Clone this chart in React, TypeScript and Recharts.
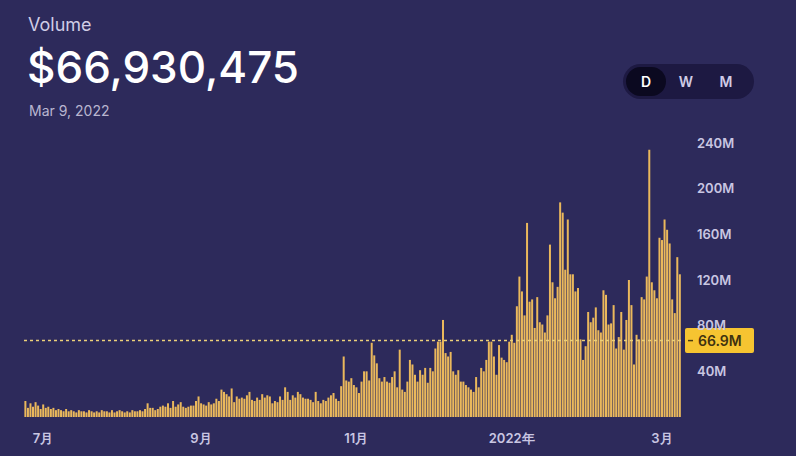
import React from 'react';
import { BarChart, Bar, XAxis, YAxis, ReferenceLine } from 'recharts';

// daily volume in millions of USD, Jun 24 2021 -> Mar 9 2022
const startDate = Date.UTC(2021, 5, 24);
const volumes = [
  14, 8, 12, 9, 13, 10, 7, 11, 8, 9, 7, 8, 6, 7, 6, 5, 7, 5, 6, 5,
  4, 6, 5, 5, 4, 6, 5, 4, 5, 4, 6, 5, 5, 4, 6, 4, 5, 6, 5, 4,
  5, 4, 6, 5, 5, 6, 5, 7, 12, 8,
  8, 6, 7, 9, 10, 9, 12, 8, 14, 9, 11, 13, 9, 8, 9, 10, 10, 14, 18, 12,
  11, 10, 13, 11, 12, 16, 14, 24, 22, 20, 18, 25, 13, 18, 16, 17, 16, 19, 22, 15,
  14, 17, 15, 20, 17, 19, 18, 12, 14, 13, 18, 15, 26, 22,
  15, 19, 17, 22, 20, 17, 16, 16, 15, 13,
  22, 14, 12, 15, 14, 17, 19, 21, 16, 14,
  27, 53, 32, 31, 34, 28, 26, 21, 31, 40,
  40, 32, 65, 54, 47, 34, 31, 35, 31, 30,
  35, 40, 26, 59, 24, 22, 31, 50, 46, 37,
  31, 41, 37, 43, 30, 43, 40, 60, 66, 66,
  85, 56, 53, 57, 40, 37, 41, 31, 31, 28,
  26, 24, 22, 35, 26, 43, 40, 50, 66, 66,
  53, 37, 63, 52, 50, 48, 66, 72, 65,
  97, 123, 110, 89, 170, 101, 103, 78, 105, 83, 81, 74, 89,
  151, 118, 104, 114, 188, 179, 129, 173, 125, 125,
  110, 113, 68, 50, 62, 92, 83, 87, 96, 76,
  74, 111, 107, 81, 82, 98, 60, 70, 92, 59,
  85, 120, 98, 46, 72, 68, 105, 103, 123, 234,
  118, 111, 104, 157, 155, 173, 164, 152, 103, 91,
  140, 125,
];

const monthLabels: Record<string, string> = {
  '2021-07-01': '7月',
  '2021-09-01': '9月',
  '2021-11-01': '11月',
  '2022-01-01': '2022年',
  '2022-03-01': '3月',
};

const yTicks = [40, 80, 120, 160, 200, 240];
const latestVolume = 66930475;
const ranges = ['D', 'W', 'M'];

const data = volumes.map((v, i) => ({
  date: new Date(startDate + i * 86400000).toISOString().slice(0, 10),
  volume: v,
}));

const labelColor = '#c9c6e2';

function MonthTick({ x, y, payload }: any) {
  const label = monthLabels[payload.value];
  if (!label) return <g />;
  return (
    <text x={x} y={y + 26} textAnchor="middle" fill={labelColor} fontSize={13} fontWeight={600}>
      {label}
    </text>
  );
}

function PriceTag({ viewBox }: any) {
  const { x, y, width } = viewBox;
  const left = x + width + 4;
  return (
    <g>
      <rect x={left} y={y - 12.5} width={69} height={25} rx={2} fill="#f6c431" />
      <line x1={left + 3} x2={left + 8} y1={y} y2={y} stroke="#4a3a12" strokeWidth={1.5} />
      <text x={left + 13} y={y} dy="0.36em" fill="#3f3210" fontSize={14} fontWeight={600}>
        {(latestVolume / 1e6).toFixed(1)}M
      </text>
    </g>
  );
}

export default function App() {
  return (
    <div
      style={{
        position: 'absolute',
        left: 0,
        top: 0,
        width: 796,
        height: 456,
        background: '#2d2a5b',
        fontFamily: 'Inter, "Noto Sans", sans-serif',
        overflow: 'hidden',
      }}
    >
      <div style={{ position: 'absolute', left: 28, top: 14, fontSize: 18, color: '#d0cde6' }}>Volume</div>
      <div style={{ position: 'absolute', left: 27, top: 40, fontSize: 44, fontWeight: 500, color: '#ffffff' }}>
        ${latestVolume.toLocaleString('en-US')}
      </div>
      <div style={{ position: 'absolute', left: 29, top: 102, fontSize: 14, color: '#b9b6d0' }}>Mar 9, 2022</div>

      {/* range toggle */}
      <div
        style={{
          position: 'absolute',
          left: 623,
          top: 64,
          width: 131,
          height: 35,
          borderRadius: 18,
          background: '#1d1942',
          display: 'flex',
          alignItems: 'center',
          padding: '0 3px',
          boxSizing: 'border-box',
        }}
      >
        {ranges.map((r, i) => (
          <div
            key={r}
            style={{
              width: 40,
              height: 29,
              borderRadius: 15,
              background: i === 0 ? '#0b0920' : 'transparent',
              color: i === 0 ? '#ffffff' : '#cfcbe6',
              fontSize: 14,
              fontWeight: 600,
              display: 'flex',
              alignItems: 'center',
              justifyContent: 'center',
            }}
          >
            {r}
          </div>
        ))}
      </div>

      <div style={{ position: 'absolute', left: 0, top: 0 }}>
        <BarChart
          width={796}
          height={456}
          data={data}
          margin={{ top: 143, right: 15, bottom: 9, left: 24 }}
          barCategoryGap="15%"
        >
          <XAxis
            dataKey="date"
            interval={0}
            axisLine={false}
            tickLine={false}
            tickSize={0}
            tickMargin={0}
            height={30}
            tick={<MonthTick />}
          />
          <YAxis
            orientation="right"
            domain={[0, 240]}
            ticks={yTicks}
            width={100}
            axisLine={false}
            tickLine={false}
            tickSize={6}
            tickMargin={10}
            tickFormatter={(v: number) => `${v}M`}
            tick={{ fill: labelColor, fontSize: 13, fontWeight: 600, textAnchor: 'start' }}
          />
          <Bar dataKey="volume" fill="#eab85c" isAnimationActive={false} />
          <ReferenceLine
            y={latestVolume / 1e6}
            stroke="#ecd07a"
            strokeDasharray="3 3"
            strokeWidth={1.5}
            label={<PriceTag />}
          />
        </BarChart>
      </div>
    </div>
  );
}
